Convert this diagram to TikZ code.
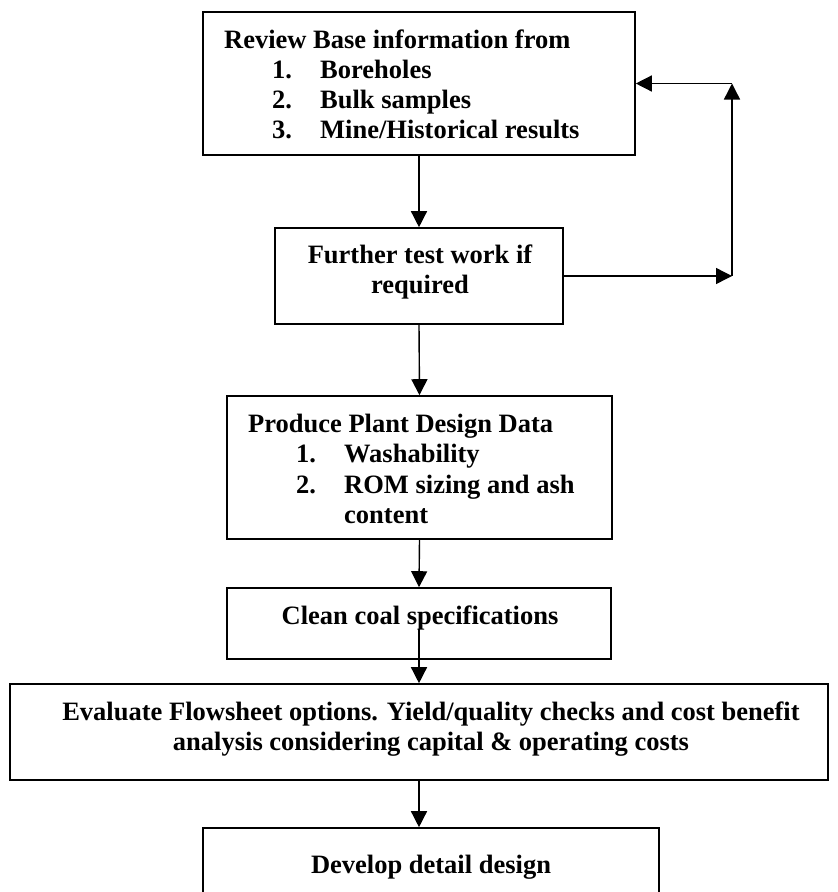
\documentclass[tikz,border=0pt]{standalone}
\usepackage{fontspec}
\setmainfont{Liberation Serif}
\usetikzlibrary{arrows.meta}
\tikzset{
  box/.style={draw, line width=1.6pt, inner sep=0pt, rectangle},
  lbl/.style={inner sep=0pt, anchor=base west, font=\fontsize{26.5}{30.5}\selectfont\bfseries},
  clbl/.style={lbl, anchor=base},
  flow/.style={line width=1.4pt, -{Triangle[width=16pt,length=16pt]}},
}
\begin{document}
\begin{tikzpicture}[x=1pt,y=-1pt]
\useasboundingbox (0,0) rectangle (838,892);
\fill[white] (0,0) rectangle (838,892);
\clip (0,0) rectangle (838,892);

% process boxes
\node[box, minimum width=432pt, minimum height=143pt] (b1) at (419,83.5) {};
\node[box, minimum width=288pt, minimum height=96pt]  (b2) at (419,276) {};
\node[box, minimum width=385pt, minimum height=143pt] (b3) at (419.5,467.5) {};
\node[box, minimum width=384pt, minimum height=71pt]  (b4) at (419,623.5) {};
\node[box, minimum width=818pt, minimum height=96pt]  (b5) at (419,732) {};
\node[box, minimum width=456pt, minimum height=143pt] (b6) at (431,899.5) {};

% box texts
\node[lbl] (t1) at (224,48) {Review Base information from};
\node[lbl] (n11) at (272,78) {1.};
\node[lbl] (i11) at (320,78) {Boreholes};
\node[lbl] (n12) at (272,108) {2.};
\node[lbl] (i12) at (320,108) {Bulk samples};
\node[lbl] (n13) at (272,138) {3.};
\node[lbl] (i13) at (320,138) {Mine/Historical results};

\node[clbl] (t2a) at (420,263) {Further test work if};
\node[clbl] (t2b) at (420,293) {required};

\node[lbl] (t3) at (248,432) {Produce Plant Design Data};
\node[lbl] (n31) at (296,462) {1.};
\node[lbl] (i31) at (344,462) {Washability};
\node[lbl] (n32) at (296,493) {2.};
\node[lbl] (i32) at (344,493) {ROM sizing and ash};
\node[lbl] (i33) at (344,523) {content};

\node[clbl] (t4) at (420,624) {Clean coal specifications};

\node[clbl] (t5a) at (431,720) {Evaluate Flowsheet options. Yield/quality checks and cost benefit};
\node[clbl] (t5b) at (431,750) {analysis considering capital \& operating costs};

\node[clbl] (t6) at (431,873) {Develop detail design};

% main flow
\draw[flow] (b1.south) -- (b2.north);
\draw[flow] (b2.south) -- (b3.north);
\draw[flow] (b3.south) -- (b4.north);
\draw[flow] ([yshift=-5pt]b4.center) -- (b5.north);
\draw[flow] (b5.south) -- (b5.south |- b6.north);

% feedback loop
\coordinate (c1) at (732,276);
\coordinate (c2) at (732,83.5);
\draw[flow] (b2.east) -- (c1);
\draw[flow] (c1) -- (c2);
\draw[flow] (c2) -- (b1.east);
\end{tikzpicture}
\end{document}
